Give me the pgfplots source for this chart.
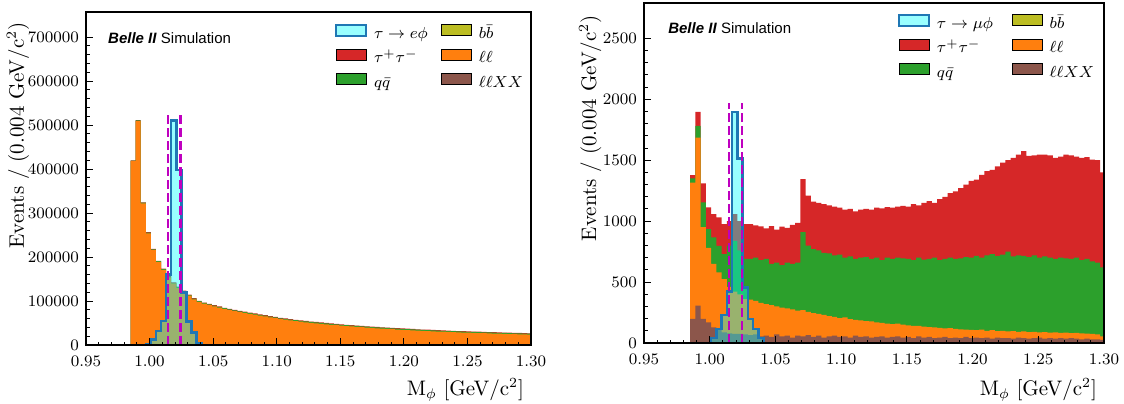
\documentclass[border=0pt]{standalone}
\usepackage{pgfplots}
\pgfplotsset{compat=1.18}
\usepackage{pgfplotstable}
\usepackage{fontspec}
\newfontfamily\bellefont{Liberation Sans}
\definecolor{tabblue}{RGB}{31,119,180}
\definecolor{tabred}{RGB}{214,39,40}
\definecolor{tabgreen}{RGB}{44,160,44}
\definecolor{tabolive}{RGB}{188,189,34}
\definecolor{taborange}{RGB}{255,127,14}
\definecolor{tabbrown}{RGB}{140,86,75}
\definecolor{sigfill}{RGB}{0,255,255}
\definecolor{mpmag}{RGB}{191,0,191}

% left panel: cumulative stack tops (O = ll, G = +qq, R = +tautau)
\pgfplotstableread{
x O G R
0.985 418000 419000 420000
0.989 509000 510500 511500
0.993 322000 323500 324500
0.997 254000 255500 256500
1.001 216000 217500 218500
1.005 189000 190500 191500
1.009 171000 172500 173500
1.013 154000 155500 156500
1.017 140000 141500 142500
1.021 130000 131500 132500
1.025 121000 122500 123500
1.029 112000 113500 114500
1.033 104000 105500 106500
1.037 98000 99500 100500
1.041 94000 95500 96500
1.045 91000 92500 93500
1.049 88000 89500 90500
1.053 85000 86600 87600
1.057 82000 83600 84600
1.061 79500 81100 82100
1.065 77000 78600 79600
1.069 75000 76700 77700
1.073 73000 74700 75700
1.077 71000 72700 73700
1.081 69000 70700 71700
1.085 67000 68700 69700
1.089 65000 66800 67800
1.093 63000 64800 65800
1.097 61000 62800 63800
1.101 59000 60800 61800
1.105 57500 59300 60300
1.109 56000 57900 58900
1.113 54500 56400 57400
1.117 53000 54900 55900
1.121 51700 53600 54600
1.125 50500 52400 53400
1.129 49300 51300 52300
1.133 48200 50200 51200
1.137 47100 49100 50100
1.141 46000 48000 49000
1.145 45000 47000 48000
1.149 44000 46000 47000
1.153 43000 45100 46000
1.157 42100 44200 45100
1.161 41200 43300 44200
1.165 40400 42500 43400
1.169 39600 41700 42600
1.173 38800 40900 41800
1.177 38000 40100 41000
1.181 37300 39400 40300
1.185 36600 38700 39600
1.189 35900 38000 38900
1.193 35200 37300 38200
1.197 34600 36700 37600
1.201 34000 36100 37000
1.205 33400 35500 36400
1.209 32800 34900 35800
1.213 32200 34300 35200
1.217 31700 33800 34700
1.221 31200 33300 34200
1.225 30700 32800 33700
1.229 30200 32300 33200
1.233 29700 31800 32700
1.237 29200 31300 32200
1.241 28800 30900 31800
1.245 28400 30500 31400
1.249 28000 30100 31000
1.253 27600 29700 30600
1.257 27200 29300 30200
1.261 26800 28900 29800
1.265 26400 28500 29400
1.269 26000 28100 29000
1.273 25700 27800 28700
1.277 25300 27400 28300
1.281 25000 27100 28000
1.285 24600 26700 27600
1.289 24300 26400 27300
1.293 24000 26100 27000
1.297 23700 25800 26700
1.301 23700 25800 26700
}\lefttab

\pgfplotstableread{
x s
0.950 0
0.997 1500
1.001 13000
1.005 31800
1.009 54500
1.013 160700
1.017 510000
1.021 398000
1.025 119000
1.029 53000
1.033 28000
1.037 4000
1.041 0
1.301 0
}\leftsig

% right panel: cumulative stack tops (B = llXX, O = +ll, G = +qq, R = +tautau)
\pgfplotstableread{
x B O G R
0.985 197 1317 1350 1377
0.989 306 1686 1781 1896
0.993 197 950 1153 1309
0.997 169 780 934 1112
1.001 128 650 866 1057
1.005 115 580 798 1030
1.009 88 525 730 975
1.013 80 460 800 1000
1.017 75 421 839 1057
1.021 75 400 760 1000
1.025 70 361 690 975
1.029 65 355 690 975
1.033 70 345 700 965
1.037 55 330 680 958
1.041 60 320 690 940
1.045 50 310 650 960
1.049 70 300 660 930
1.053 55 290 640 955
1.057 60 285 660 945
1.061 45 275 650 970
1.065 60 265 660 985
1.069 55 270 910 1344
1.073 65 255 800 1210
1.077 50 245 770 1160
1.081 60 240 760 1150
1.085 45 230 740 1140
1.089 55 220 735 1130
1.093 60 215 720 1120
1.097 50 205 725 1110
1.101 55 210 700 1095
1.105 45 195 710 1100
1.109 60 190 690 1080
1.113 50 185 700 1095
1.117 55 180 705 1100
1.121 45 178 690 1095
1.125 50 170 700 1110
1.129 55 165 680 1105
1.133 45 160 700 1115
1.137 50 155 690 1110
1.141 55 160 700 1120
1.145 45 150 695 1125
1.149 50 145 690 1120
1.153 40 140 680 1140
1.157 55 140 700 1130
1.161 45 135 685 1150
1.165 50 130 690 1165
1.169 40 128 700 1150
1.173 45 125 680 1180
1.177 50 120 690 1200
1.181 40 122 700 1230
1.185 45 115 690 1245
1.189 40 112 695 1270
1.193 50 110 705 1300
1.197 40 108 700 1330
1.201 45 105 715 1340
1.205 40 110 700 1380
1.209 45 100 720 1410
1.213 35 105 730 1420
1.217 45 98 715 1450
1.221 40 100 725 1480
1.225 40 95 750 1500
1.229 35 97 710 1520
1.233 45 92 720 1545
1.237 40 95 715 1575
1.241 35 90 705 1535
1.245 40 92 720 1540
1.249 45 88 700 1545
1.253 35 90 710 1545
1.257 40 85 700 1540
1.261 35 87 690 1520
1.265 40 84 700 1530
1.269 35 86 695 1545
1.273 40 82 690 1540
1.277 35 84 700 1530
1.281 30 80 680 1520
1.285 35 78 690 1525
1.289 30 75 670 1505
1.293 30 70 660 1500
1.297 25 55 620 1400
1.301 25 55 620 1400
}\righttab

\pgfplotstableread{
x s
0.950 0
1.001 40
1.005 115
1.009 230
1.013 421
1.017 1896
1.021 1514
1.025 456
1.029 197
1.033 115
1.037 40
1.041 0
1.301 0
}\rightsig

\pgfplotsset{
  belle/.style={
    scale only axis,
    axis on top,
    tick align=inside,
    tick pos=left,
    major tick length=3.5pt,
    minor tick length=1.75pt,
    minor x tick num=4,
    minor y tick num=4,
    tick style={line width=0.5pt, black},
    axis line style={line width=0.6pt},
    xmin=0.95, xmax=1.30, ymin=0,
    xtick={0.95,1.00,1.05,1.10,1.15,1.20,1.25,1.30},
    scaled ticks=false,
    tick label style={font=\fontsize{8.5}{10}\selectfont},
    xticklabel style={yshift=-2pt, /pgf/number format/.cd, fixed, fixed zerofill, precision=2},
    yticklabel style={/pgf/number format/.cd, fixed, 1000 sep={}},
    label style={font=\fontsize{10.5}{12}\selectfont},
    xlabel={$\mathrm{M}_{\phi}$ [GeV/c$^{2}$]},
    ylabel={Events / (0.004 GeV/c$^{2}$)},
    legend columns=2,
    legend cell align=left,
    legend image code/.code={\path[##1] (0pt,-0.5pt) rectangle (15pt,5pt);},
    legend style={draw=none, fill=none, inner sep=0pt, outer sep=0pt,
      font=\fontsize{8}{9.5}\selectfont,
      nodes={inner sep=0pt, text height=6pt, text depth=2pt},
      row sep=3pt, column sep=0pt,
      /tikz/every odd column/.style={column sep=3.5pt}},
  },
  bkg/.style={const plot, draw=none, fill=#1, forget plot},
  sig/.style={const plot, fill=sigfill, fill opacity=0.4, draw=tabblue, line width=1.25pt, forget plot},
  win/.style={mpmag, line width=1.25pt, dash pattern=on 4.5pt off 2pt, forget plot},
}

\begin{document}
\begin{tikzpicture}
\path[use as bounding box] (0pt,0pt) rectangle (562pt,201.5pt);

% ---------------- left panel ----------------
\begin{axis}[belle,
  at={(43pt,29pt)}, anchor=south west,
  width=222.5pt, height=166.5pt,
  ymax=757000,
  ytick={0,100000,200000,300000,400000,500000,600000,700000},
  ylabel style={at={(axis description cs:-0.153,0.99)}, anchor=east},
  xlabel style={at={(axis description cs:1,-0.135)}, anchor=east},
  legend style={at={(axis description cs:0.5596,0.9655)}, anchor=north west},
]
\addplot[bkg=tabred] table[x=x,y=R]{\lefttab} \closedcycle;
\addplot[bkg=tabgreen] table[x=x,y=G]{\lefttab} \closedcycle;
\addplot[bkg=taborange] table[x=x,y=O]{\lefttab} \closedcycle;
\addplot[sig] table[x=x,y=s]{\leftsig} \closedcycle;
\addplot[win] coordinates {(1.0145,0) (1.0145,527000)};
\addplot[win] coordinates {(1.0245,0) (1.0245,527000)};
\addlegendimage{fill=sigfill, fill opacity=0.4, draw=tabblue, line width=1pt}
\addlegendentry{\makebox[33.5pt][l]{$\tau\to e\phi$}}
\addlegendimage{fill=tabolive}
\addlegendentry{$b\bar{b}$}
\addlegendimage{fill=tabred}
\addlegendentry{\makebox[33.5pt][l]{$\tau^{+}\tau^{-}$}}
\addlegendimage{fill=taborange}
\addlegendentry{$\ell\ell$}
\addlegendimage{fill=tabgreen}
\addlegendentry{\makebox[33.5pt][l]{$q\bar{q}$}}
\addlegendimage{fill=tabbrown}
\addlegendentry{$\ell\ell XX$}
\node[anchor=west, inner sep=0pt, font=\bellefont\fontsize{7.5}{9}\selectfont]
  at (axis description cs:0.049,0.922) {\textbf{\textit{Belle II}} Simulation};
\end{axis}

% ---------------- right panel ----------------
\begin{axis}[belle,
  at={(322pt,30pt)}, anchor=south west,
  width=230pt, height=170pt,
  ymax=2790,
  ytick={0,500,1000,1500,2000,2500},
  ylabel style={at={(axis description cs:-0.117,0.985)}, anchor=east},
  xlabel style={at={(axis description cs:1,-0.138)}, anchor=east},
  legend style={at={(axis description cs:0.552,0.969)}, anchor=north west},
]
\addplot[bkg=tabred] table[x=x,y=R]{\righttab} \closedcycle;
\addplot[bkg=tabgreen] table[x=x,y=G]{\righttab} \closedcycle;
\addplot[bkg=taborange] table[x=x,y=O]{\righttab} \closedcycle;
\addplot[bkg=tabbrown] table[x=x,y=B]{\righttab} \closedcycle;
\addplot[sig] table[x=x,y=s]{\rightsig} \closedcycle;
\addplot[win] coordinates {(1.0145,0) (1.0145,1967)};
\addplot[win] coordinates {(1.0245,0) (1.0245,1967)};
\addlegendimage{fill=sigfill, fill opacity=0.4, draw=tabblue, line width=1pt}
\addlegendentry{\makebox[37.5pt][l]{$\tau\to\mu\phi$}}
\addlegendimage{fill=tabolive}
\addlegendentry{$b\bar{b}$}
\addlegendimage{fill=tabred}
\addlegendentry{\makebox[37.5pt][l]{$\tau^{+}\tau^{-}$}}
\addlegendimage{fill=taborange}
\addlegendentry{$\ell\ell$}
\addlegendimage{fill=tabgreen}
\addlegendentry{\makebox[37.5pt][l]{$q\bar{q}$}}
\addlegendimage{fill=tabbrown}
\addlegendentry{$\ell\ell XX$}
\node[anchor=west, inner sep=0pt, font=\bellefont\fontsize{7.5}{9}\selectfont]
  at (axis description cs:0.052,0.926) {\textbf{\textit{Belle II}} Simulation};
\end{axis}
\end{tikzpicture}
\end{document}
